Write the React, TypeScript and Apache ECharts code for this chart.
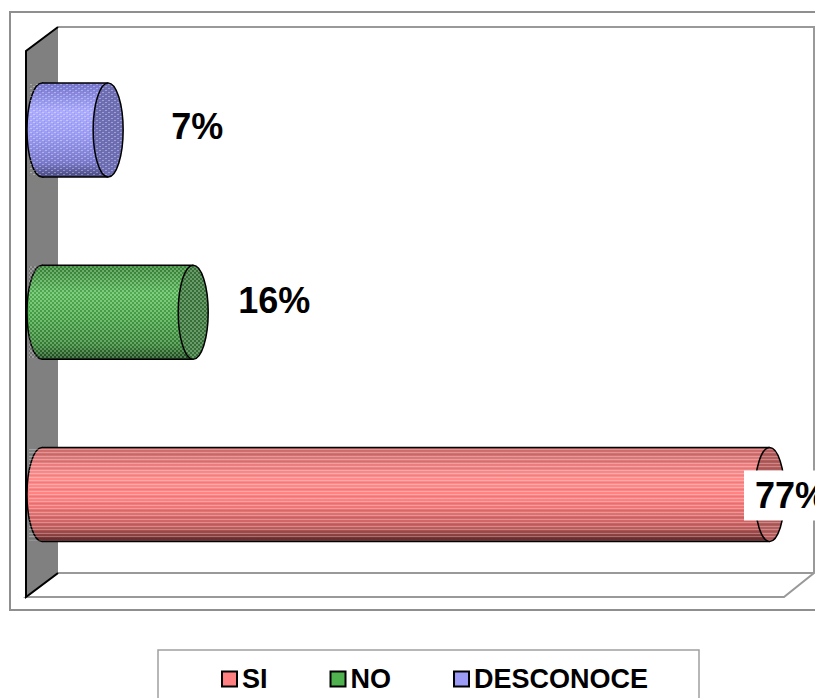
import React, { useEffect, useRef } from "react";
import * as echarts from "echarts";

// ---- data ----
const CATEGORIES: string[] = ["SI", "NO", "DESCONOCE"];
const SERIES_NAMES: string[] = ["SI", "NO", "DESCONOCE"];
const VALUES: number[] = [77, 16, 7];
const AXIS_MAX = 80;

// ---- styles ----
const BASE_COLORS = ["#ff8080", "#4fb24f", "#9c9cf6"];
const GRADIENTS: string[][] = [
  ["#c86868", "#ff8c8c", "#ff8080", "#c45e5e", "#5e2626"],
  ["#3a8a3a", "#5cc05c", "#4cae4c", "#3a8a3a", "#1f4d1f"],
  ["#7474cc", "#ababff", "#9c9cf4", "#7a7acc", "#48487e"],
];
const CAP_COLORS = ["#b45c5c", "#3f7d3f", "#6e6eb4"];
const PATTERN_KIND = ["stripes", "checker", "dots"];
const LABEL_DX = [19, 19, 37];
const LABEL_DY = [1, -12, -4];
const FONT = '"Liberation Sans", Arial, sans-serif';

function makePattern(kind: string): HTMLCanvasElement {
  const c = document.createElement("canvas");
  const ctx = c.getContext("2d")!;
  if (kind === "stripes") {
    c.width = 4;
    c.height = 7;
    ctx.fillStyle = "rgba(255,255,255,0.28)";
    ctx.fillRect(0, 1, 4, 1);
    ctx.fillRect(0, 4, 4, 1);
    ctx.fillStyle = "rgba(0,0,0,0.08)";
    ctx.fillRect(0, 6, 4, 1);
  } else if (kind === "checker") {
    c.width = 4;
    c.height = 4;
    ctx.fillStyle = "rgba(255,255,255,0.22)";
    ctx.fillRect(0, 0, 2, 2);
    ctx.fillRect(2, 2, 2, 2);
    ctx.fillStyle = "rgba(0,0,0,0.12)";
    ctx.fillRect(2, 0, 2, 2);
    ctx.fillRect(0, 2, 2, 2);
  } else {
    c.width = 6;
    c.height = 4;
    ctx.fillStyle = "rgba(255,255,255,0.35)";
    ctx.fillRect(0, 0, 2, 1);
    ctx.fillRect(3, 2, 2, 1);
    ctx.fillStyle = "rgba(0,0,0,0.08)";
    ctx.fillRect(2, 1, 1, 1);
    ctx.fillRect(5, 3, 1, 1);
  }
  return c;
}

function grad(stops: string[]) {
  const n = stops.length;
  const offs = [0, 0.3, 0.55, 0.85, 1];
  return new echarts.graphic.LinearGradient(
    0,
    0,
    0,
    1,
    stops.map((s, i) => ({ offset: n === 5 ? offs[i] : i / (n - 1), color: s }))
  );
}

export default function App() {
  const ref = useRef<HTMLDivElement>(null);

  useEffect(() => {
    if (!ref.current) return;
    const chart = echarts.init(ref.current, null, { renderer: "svg" });
    const patterns = PATTERN_KIND.map((k) => makePattern(k));

    const series = SERIES_NAMES.map((name, si) => ({
      name,
      type: "custom",
      itemStyle: { color: BASE_COLORS[si] },
      encode: { x: 0, y: 1 },
      data: [[VALUES[si], CATEGORIES[si]]],
      renderItem: (params: any, api: any) => {
        const v = api.value(0);
        const c = api.value(1);
        const p0 = api.coord([0, c]);
        const p1 = api.coord([v, c]);
        const band = api.size([0, 1])[1];
        const h = band * 0.516;
        const ry = h / 2;
        const rx = 15;
        const yc = p0[1];
        const top = yc - ry;
        const x0 = p0[0];
        const x1 = p1[0];
        const pat = { image: patterns[si], repeat: "repeat" };
        const lx = Math.min(x1 + rx + LABEL_DX[si], 744);
        return {
          type: "group",
          children: [
            {
              type: "ellipse",
              shape: { cx: x0, cy: yc, rx, ry },
              style: { fill: grad(GRADIENTS[si]), stroke: "#000", lineWidth: 1.5 },
            },
            {
              type: "rect",
              shape: { x: x0, y: top, width: x1 - x0, height: h },
              style: { fill: grad(GRADIENTS[si]) },
            },
            {
              type: "rect",
              shape: { x: x0 - rx + 2, y: top + 1, width: x1 - x0 + rx - 2, height: h - 2 },
              style: { fill: pat },
            },
            {
              type: "line",
              shape: { x1: x0, y1: top, x2: x1, y2: top },
              style: { stroke: "#000", lineWidth: 1.5 },
            },
            {
              type: "line",
              shape: { x1: x0, y1: top + h, x2: x1, y2: top + h },
              style: { stroke: "#000", lineWidth: 1.5 },
            },
            {
              type: "ellipse",
              shape: { cx: x1, cy: yc, rx, ry },
              style: { fill: CAP_COLORS[si], stroke: "#000", lineWidth: 1.5 },
            },
            {
              type: "ellipse",
              shape: { cx: x1, cy: yc, rx: rx - 1, ry: ry - 1 },
              style: { fill: pat },
            },
            {
              type: "text",
              x: lx,
              y: yc + LABEL_DY[si],
              style: {
                text: v + "%",
                font: "bold 36px " + FONT,
                fill: "#000",
                align: "left",
                verticalAlign: "middle",
                backgroundColor: "#fff",
                padding: [7, 11, 7, 11],
              },
            },
          ],
        };
      },
    }));

    chart.setOption({
      animation: false,
      backgroundColor: "#fff",
      grid: { left: 42, right: 17, top: 39, bottom: 112.5 },
      xAxis: { type: "value", min: 0, max: AXIS_MAX, show: false },
      yAxis: { type: "category", data: CATEGORIES, show: false },
      legend: {
        left: 221,
        top: 664,
        padding: 0,
        itemGap: 62,
        itemWidth: 15,
        itemHeight: 15,
        selectedMode: false,
        textStyle: { fontSize: 27, fontWeight: "bold", fontFamily: FONT, color: "#000", lineHeight: 30 },
        data: SERIES_NAMES.map((n, i) => ({
          name: n,
          icon: "rect",
          itemStyle: { color: BASE_COLORS[i], borderColor: "#000", borderWidth: 2 },
        })),
      },
      graphic: [
        {
          type: "rect",
          z: -10,
          shape: { x: 10, y: 12, width: 830, height: 598 },
          style: { fill: "#fff", stroke: "#8f8f8f", lineWidth: 2 },
        },
        {
          type: "polygon",
          z: -5,
          shape: { points: [[26, 597], [58, 573], [814, 573], [784, 597]] },
          style: { fill: "#fff", stroke: "#999", lineWidth: 2 },
        },
        {
          type: "polyline",
          z: -5,
          shape: { points: [[58, 27], [814, 27], [814, 573]] },
          style: { fill: null, stroke: "#999", lineWidth: 2 },
        },
        {
          type: "polygon",
          z: -4,
          shape: { points: [[26, 51], [58, 27], [58, 573], [26, 597]] },
          style: { fill: "#808080" },
        },
        {
          type: "polyline",
          z: -3,
          shape: { points: [[58, 27], [26, 51], [26, 597], [58, 573]] },
          style: { fill: null, stroke: "#000", lineWidth: 2 },
        },
        {
          type: "rect",
          z: -10,
          shape: { x: 158, y: 650, width: 541, height: 80 },
          style: { fill: "#fff", stroke: "#a0a0a0", lineWidth: 1.5 },
        },
      ],
      series,
    } as any);

    return () => chart.dispose();
  }, []);

  return (
    <div
      ref={ref}
      style={{ position: "fixed", left: 0, top: 0, width: 815, height: 698 }}
    />
  );
}
